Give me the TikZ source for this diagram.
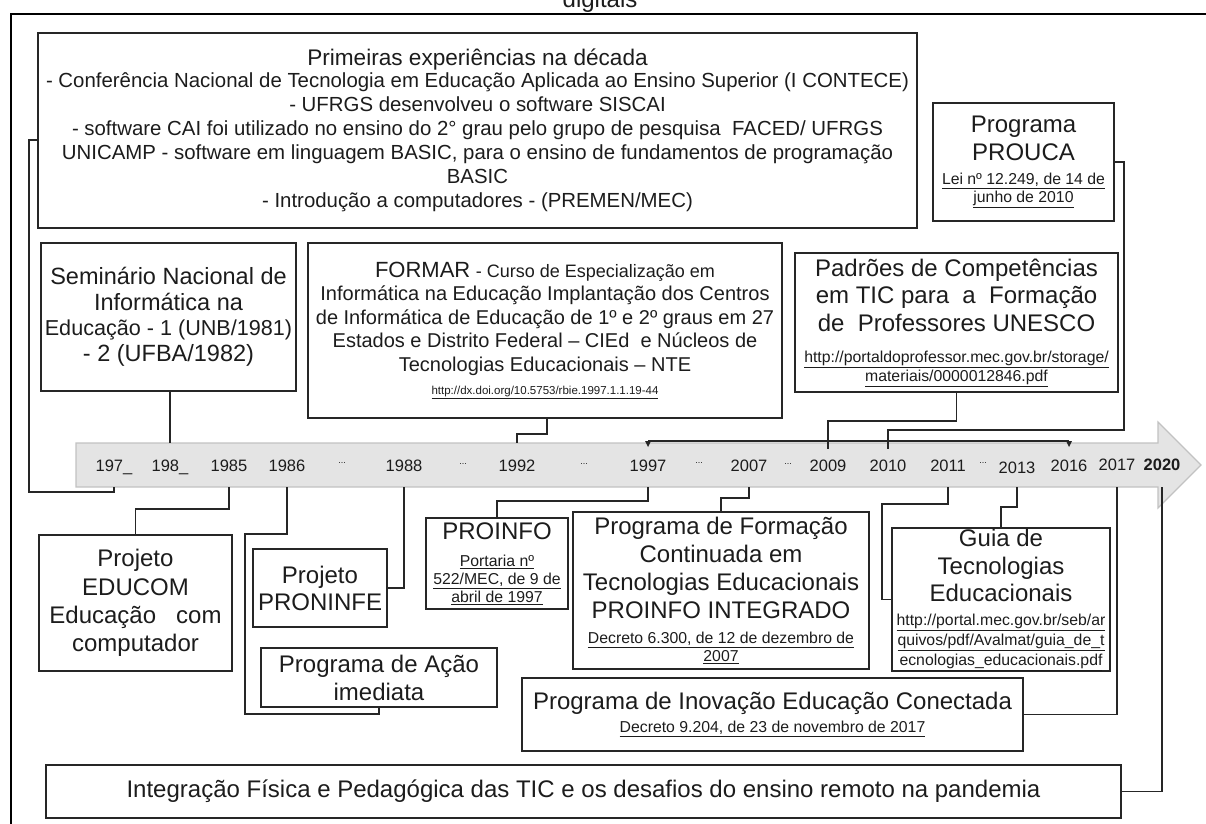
\documentclass[tikz,border=0pt]{standalone}
\usepackage{fontspec}
\setmainfont{Liberation Sans}
\definecolor{ink}{HTML}{1C1C1C}
\definecolor{boxc}{HTML}{262626}
\definecolor{bandfill}{HTML}{E4E4E4}
\definecolor{bandline}{HTML}{C2C2C2}
\newcommand\fbig{\fontsize{24}{28}\selectfont}
\newcommand\fsm{\fontsize{15.8}{18}\selectfont}
\newcommand\fyr{\fontsize{16.5}{18}\selectfont}
\newcommand\fdot{\fontsize{9}{9}\selectfont}
\newcommand\myul[1]{\underline{#1}}
\tikzset{
  box/.style={draw=boxc, line width=1.8pt, inner sep=0pt, align=center, text=ink, font=\fbig},
  conn/.style={draw=boxc, line width=1.5pt},
  yr/.style={font=\fyr, text=ink, inner sep=0pt, anchor=base},
  dts/.style={font=\fdot, text=ink, inner sep=0pt},
}
\begin{document}
\begin{tikzpicture}[x=1pt,y=-1pt]
\useasboundingbox (0,0) rectangle (1206,823);
% outer frame and cut caption
\draw[line width=2pt, black] (11,840) -- (11,14) -- (1220,14);
\node[font=\fontsize{24}{24}\selectfont, anchor=base, text=ink] (caption) at (600,7) {digitais};

% timeline band
\filldraw[fill=bandfill, draw=bandline, line width=1.2pt]
  (76,443) -- (1158,443) -- (1158,422) -- (1201,465) -- (1158,508) -- (1158,487) -- (76,487) -- cycle;
\coordinate (bt) at (0,443);
\coordinate (bb) at (0,487);
\coordinate (br) at (0,441);

% years
\node[yr] (y197) at (114,471) {197\_};
\node[yr] (y198) at (170,471) {198\_};
\node[yr] (y1985) at (229,471) {1985};
\node[yr] (y1986) at (287,471) {1986};
\node[dts] (d1) at (342,463) {...};
\node[yr] (y1988) at (404,471) {1988};
\node[dts] (d2) at (463,464) {...};
\node[yr] (y1992) at (517,471) {1992};
\node[dts] (d3) at (584,464) {...};
\node[yr] (y1997) at (648,471) {1997};
\node[dts] (d4) at (699,463) {...};
\node[yr] (y2007) at (749,471) {2007};
\node[dts] (d5) at (788,464) {...};
\node[yr] (y2009) at (828,471) {2009};
\node[yr] (y2010) at (888,471) {2010};
\node[yr] (y2011) at (948,471) {2011};
\node[dts] (d6) at (983,463) {...};
\node[yr] (y2013) at (1017,473) {2013};
\node[yr] (y2016) at (1069,471) {2016};
\node[yr] (y2017) at (1117,470) {2017};
\node[yr, font=\fyr\bfseries] (y2020) at (1162,470) {2020};

% boxes above
\node[box, minimum width=879pt, minimum height=195pt, font=\fontsize{20.4}{24}\selectfont] (top) at (477.5,130.5)
 {{\fontsize{22.6}{24}\selectfont Primeiras experiências na década}\\[-2pt]
  - Conferência Nacional de Tecnologia em Educação Aplicada ao Ensino Superior (I CONTECE)\\
  - UFRGS desenvolveu o software SISCAI\\
  - software CAI foi utilizado no ensino do 2° grau pelo grupo de pesquisa\ \ FACED/ UFRGS\\
  UNICAMP - software em linguagem BASIC, para o ensino de fundamentos de programação\\
  BASIC\\
  - Introdução a computadores - (PREMEN/MEC)};

\node[box, minimum width=181pt, minimum height=118pt] (prouca) at (1023.5,162)
 {Programa\\PROUCA\\[-4pt]{\fsm\myul{Lei nº 12.249, de 14 de}}\\[-10pt]{\fsm\myul{junho de 2010}}};

\node[box, minimum width=255pt, minimum height=148pt, font=\fontsize{23.5}{25.5}\selectfont] (seminario) at (168.5,317)
 {Seminário Nacional de\\Informática na\\{\fontsize{21.6}{25.5}\selectfont Educação - 1 (UNB/1981)}\\- 2 (UFBA/1982)};

\node[box, minimum width=474pt, minimum height=175pt, font=\fontsize{20}{23.5}\selectfont] (formar) at (545,330.5)
 {{\fontsize{22}{23.5}\selectfont FORMAR} {\fontsize{18}{23.5}\selectfont - Curso de Especialização em}\\
  Informática na Educação Implantação dos Centros\\
  de Informática de Educação de 1º e 2º graus em 27\\
  Estados e Distrito Federal – CIEd\ \ e Núcleos de\\
  Tecnologias Educacionais – NTE\\
  {\fontsize{11.5}{13}\selectfont\myul{http://dx.doi.org/10.5753/rbie.1997.1.1.19-44}}};

\node[box, minimum width=323pt, minimum height=139pt, font=\fontsize{24}{27.5}\selectfont] (padroes) at (956.5,322.5)
 {Padrões de Competências\\em TIC para\ \ a\ \ Formação\\de\ \ Professores UNESCO\\[3.5pt]
  {\fsm\myul{http://portaldoprofessor.mec.gov.br/storage/}}\\[-8.5pt]
  {\fsm\myul{materiais/0000012846.pdf}}};

% boxes below
\node[box, minimum width=193pt, minimum height=136pt, font=\fontsize{24}{28.3}\selectfont] (educom) at (135.5,603)
 {Projeto\\EDUCOM\\Educação\hspace{20pt}com\\computador};

\node[box, minimum width=134pt, minimum height=78pt, font=\fontsize{24}{27}\selectfont] (proninfe) at (320,588)
 {Projeto\\PRONINFE};

\node[box, minimum width=236pt, minimum height=59pt] (acao) at (379,677.5)
 {Programa de Ação\\imediata};

\node[box, minimum width=142pt, minimum height=91pt] (proinfo) at (497,563.5)
 {PROINFO\\[-1pt]{\fsm\myul{Portaria nº}}\\[-10pt]{\fsm\myul{522/MEC, de 9 de}}\\[-10pt]{\fsm\myul{abril de 1997}}};

\node[box, minimum width=296pt, minimum height=157pt] (formacao) at (721,590.5)
 {Programa de Formação\\Continuada em\\Tecnologias Educacionais\\PROINFO INTEGRADO\\[-3pt]
  {\fsm\myul{Decreto 6.300, de 12 de dezembro de}}\\[-10pt]{\fsm\myul{2007}}};

\node[box, minimum width=218pt, minimum height=143pt] (guia) at (1001,599.5)
 {Guia de\\Tecnologias\\[-1pt]Educacionais\\[-4pt]
  {\fsm\myul{http://portal.mec.gov.br/seb/ar}}\\[-8pt]
  {\fsm\myul{quivos/pdf/Avalmat/guia\_de\_t}}\\[-8pt]
  {\fsm\myul{ecnologias\_educacionais.pdf}}};

\node[box, minimum width=501pt, minimum height=73pt] (inovacao) at (772.5,714.5)
 {Programa de Inovação Educação Conectada\\[-5pt]{\fsm\myul{Decreto 9.204, de 23 de novembro de 2017}}};

\node[box, minimum width=1075pt, minimum height=53pt] (integracao) at (583.5,791.5)
 {Integração Física e Pedagógica das TIC e os desafios do ensino remoto na pandemia};

% connectors above the band
\draw[conn] ([yshift=-9.5pt]top.west) -- ++(-8,0) -- ++(0,352) -| (y197 |- bb);
\draw[conn] (y198 |- seminario.south) -- (y198 |- bt);
\draw[conn] ([xshift=2pt]formar.south) -- ++(0,15) -| (y1992 |- bt);
\draw[conn] (padroes.south) -- ++(0,28) -| ([yshift=-6pt]y2009 |- bt);
\draw[conn] (prouca.east) -- ++(9,0) -- ++(0,268) -| ([yshift=-6pt]y2010 |- bt);
\draw[conn] (y1997 |- br) -- (y2016 |- br);
\fill[boxc] ([xshift=-3pt]y1997 |- br) -- ++(6,0) -- ++(-3,6) -- cycle;
\fill[boxc] ([xshift=-3pt]y2016 |- br) -- ++(6,0) -- ++(-3,6) -- cycle;

% connectors below the band
\draw[conn] (y1985 |- bb) -- ++(0,22) -| (educom.north);
\draw[conn] (y1986 |- bb) -- ++(0,47) -- ++(-42,0) -- ++(0,180) -| (acao.south);
\draw[conn] (y1988 |- bb) |- (proninfe.east);
\draw[conn] (y1997 |- bb) -- ++(0,14) -| (proinfo.north);
\draw[conn] (y2007 |- bb) -- ++(0,11) -| (formacao.north);
\draw[conn] (y2011 |- bb) -- ++(0,17) -- ++(-66,0) |- (guia.west);
\draw[conn] (y2013 |- bb) -- ++(0,20) -| (guia.north);
\draw[conn] (y2017 |- bb) |- (inovacao.east);
\draw[conn] (y2020 |- bb) |- (integracao.east);
\end{tikzpicture}
\end{document}
